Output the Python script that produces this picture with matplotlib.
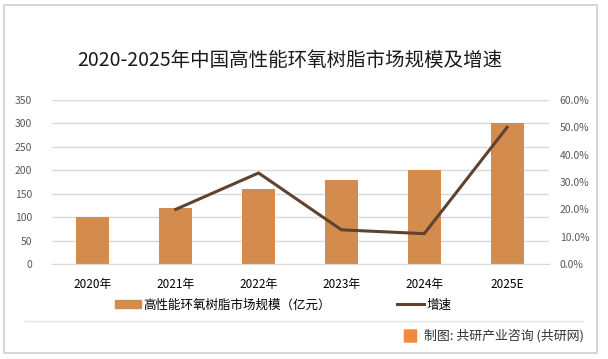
import matplotlib.pyplot as plt
import matplotlib.patches as mpatches
from matplotlib.lines import Line2D
import numpy as np

plt.rcParams['font.family'] = ['Noto Sans CJK SC', 'DejaVu Sans']

years = ["2020年", "2021年", "2022年", "2023年", "2024年", "2025E"]
market_size = [100, 120, 160, 180, 200, 300]
growth = [None, 20.0, 33.3, 12.5, 11.1, 50.0]

bar_color = "#D38C4E"
line_color = "#5E4330"
grid_color = "#D9D9D9"
tick_color = "#595959"

fig = plt.figure(figsize=(6.08, 3.59), dpi=100)

# frame around whole picture
fig.add_artist(mpatches.Rectangle((4 / 608, 6 / 359), 593 / 608, 348 / 359,
                                  transform=fig.transFigure, fill=False,
                                  edgecolor="#D0D0D0", linewidth=1.2))
fig.add_artist(Line2D([25 / 608, 583 / 608], [1 - 321 / 359, 1 - 321 / 359],
                      transform=fig.transFigure, color="#E3E3E3", linewidth=1))

ax = fig.add_axes([51.5 / 608, 1 - 264 / 359, 497 / 608, 164 / 359])
x = np.arange(len(years))
ax.bar(x, market_size, width=0.4, color=bar_color, zorder=2)
ax.set_ylim(0, 350)
ax.set_yticks(np.arange(0, 351, 50))
ax.set_xlim(-0.5, len(years) - 0.5)
ax.set_xticks(x)
ax.set_xticklabels(years, fontsize=8.5, color="black")
ax.yaxis.grid(True, color=grid_color, linewidth=1, zorder=0)
ax.tick_params(axis="y", length=0, labelsize=7.5, labelcolor=tick_color, pad=14)
ax.tick_params(axis="x", length=0, pad=10)
for s in ["top", "right", "left"]:
    ax.spines[s].set_visible(False)
ax.spines["bottom"].set_color(grid_color)

ax2 = ax.twinx()
gx = [i for i, g in enumerate(growth) if g is not None]
gy = [g for g in growth if g is not None]
ax2.plot(gx, gy, color=line_color, linewidth=2.2, zorder=3)
ax2.set_ylim(0, 60)
ax2.set_yticks(np.arange(0, 61, 10))
ax2.set_yticklabels([f"{v:.1f}%" for v in np.arange(0, 61, 10)])
ax2.tick_params(axis="y", length=0, labelsize=7.5, labelcolor=tick_color, pad=8)
for s in ax2.spines.values():
    s.set_visible(False)

fig.text(290 / 608, 1 - 60 / 359, "2020-2025年中国高性能环氧树脂市场规模及增速",
         ha="center", va="center", fontsize=14, color="#1a1a1a")

handles = [mpatches.Patch(color=bar_color),
           Line2D([0], [0], color=line_color, linewidth=2.2)]
fig.legend(handles, ["高性能环氧树脂市场规模（亿元）", "增速"],
           loc="center", bbox_to_anchor=(283 / 608, 1 - 305 / 359), ncol=2,
           frameon=False, fontsize=9, handlelength=2.1, handleheight=0.6,
           columnspacing=5.3, handletextpad=0.2)

# source note with small icon
fig.add_artist(mpatches.FancyBboxPatch((405 / 608, 1 - 342 / 359), 11 / 608, 12 / 359,
                                       boxstyle="round,pad=0.002",
                                       transform=fig.transFigure,
                                       facecolor="#F08A3C", edgecolor="none"))
fig.text(424 / 608, 1 - 336 / 359, "制图: 共研产业咨询 (共研网)",
         ha="left", va="center", fontsize=9.3, color="#333333")

fig.savefig("out.png", dpi=100)
